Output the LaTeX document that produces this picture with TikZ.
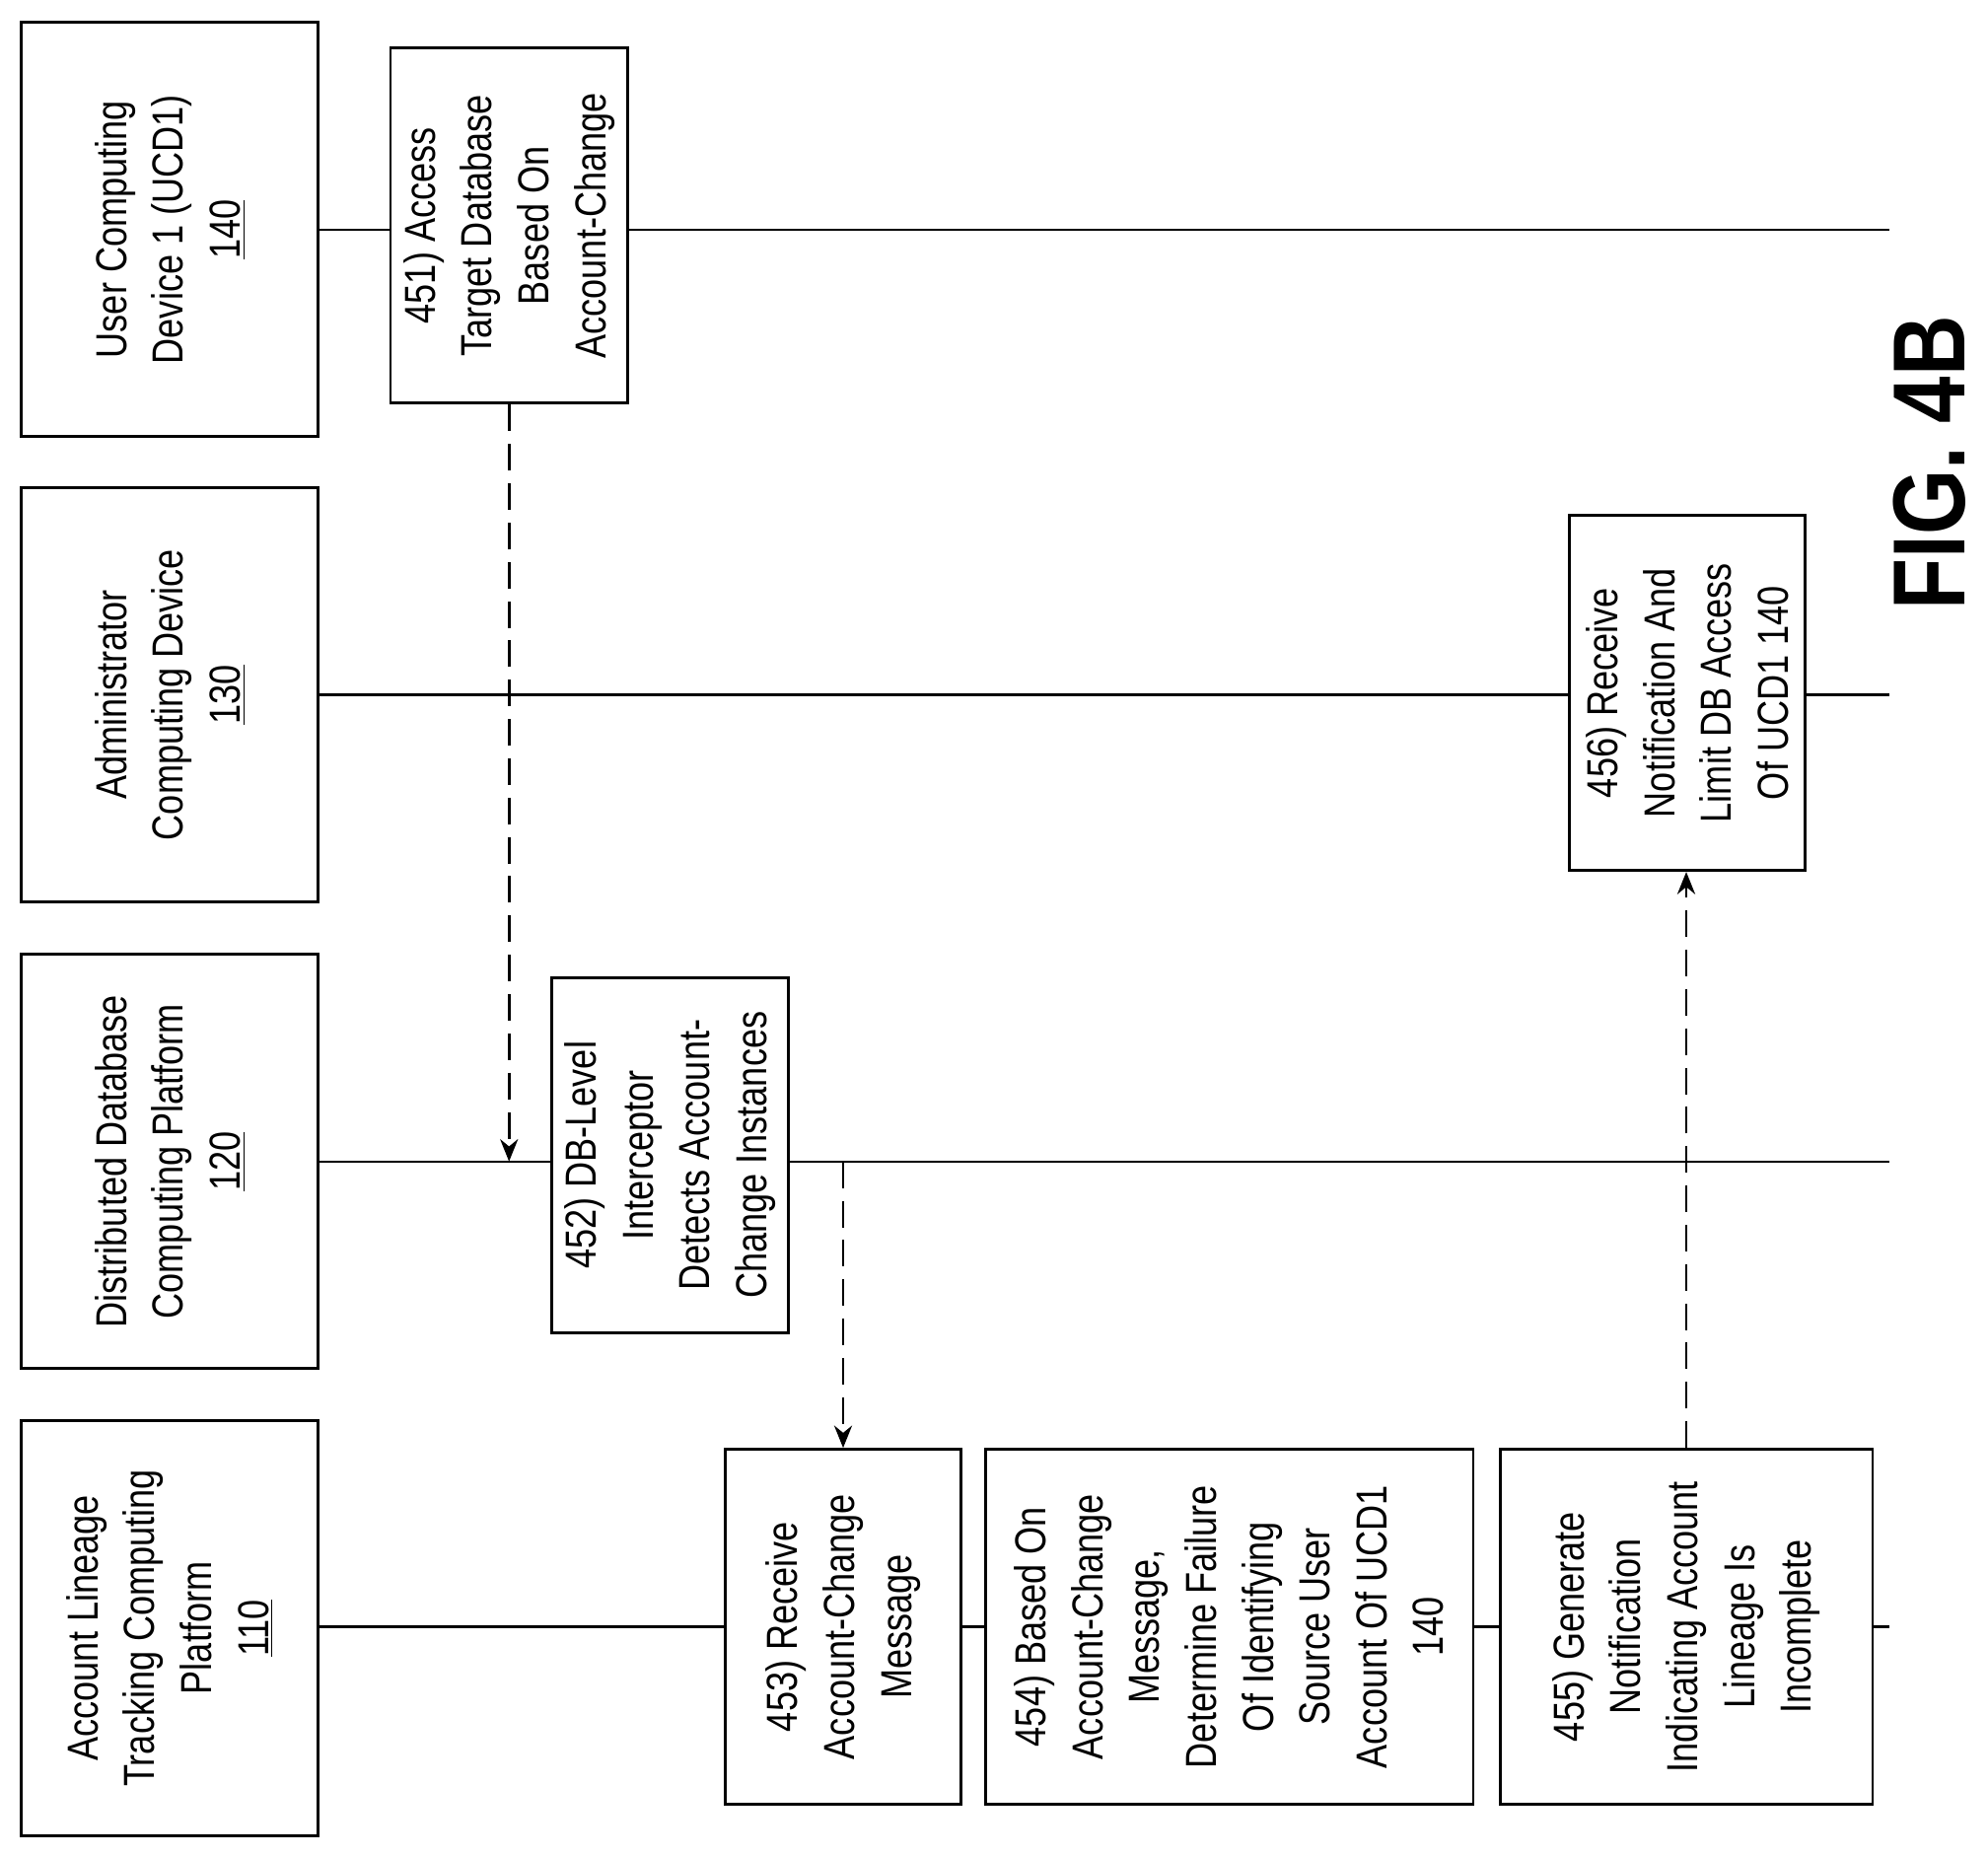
\documentclass[tikz,border=0pt]{standalone}
\usepackage{fontspec}
\setmainfont{Liberation Sans}[FakeStretch=0.82]
\usetikzlibrary{arrows.meta}
\begin{document}
\begin{tikzpicture}[x=0.02cm,y=-0.02cm,
  box/.style={draw,line width=1.3pt,fill=white,rotate=90,align=center,inner sep=0pt,
    font=\fontsize{19.5}{25.5}\selectfont},
  lane/.style={line width=1pt},
  msg/.style={line width=1.3pt,dash pattern=on 0.42cm off 0.2cm,-{Stealth[length=10pt,width=8pt]}}]
\useasboundingbox (0,0) rectangle (1568,1464);
% lane lines
\coordinate (l1a) at (251,181); \coordinate (l1b) at (1490,181);
\coordinate (l2a) at (251,548); \coordinate (l2b) at (1490,548);
\coordinate (l3a) at (251,916); \coordinate (l3b) at (1490,916);
\coordinate (l4a) at (251,1283); \coordinate (l4b) at (1490,1283);
\draw[lane] (l1a)--(l1b); \draw[lane] (l2a)--(l2b); \draw[lane] (l3a)--(l3b); \draw[lane] (l4a)--(l4b);
% lane boxes
\node[box,minimum width=6.54cm,minimum height=4.68cm] (ucd) at (134,181) {User Computing\\Device 1 (UCD1)\\\underline{140}};
\node[box,minimum width=6.54cm,minimum height=4.68cm] (adm) at (134,548) {Administrator\\Computing Device\\\underline{130}};
\node[box,minimum width=6.54cm,minimum height=4.68cm] (ddcp) at (134,916) {Distributed Database\\Computing Platform\\\underline{120}};
\node[box,minimum width=6.54cm,minimum height=4.68cm] (alt) at (134,1284) {Account Lineage\\Tracking Computing\\Platform\\\underline{110}};
% step boxes
\node[box,minimum width=5.6cm,minimum height=3.74cm] (b451) at (401.5,178) {451) Access\\Target Database\\Based On\\Account-Change};
\node[box,minimum width=5.6cm,minimum height=3.72cm] (b456) at (1331,546.5) {456) Receive\\Notification And\\Limit DB Access\\Of UCD1 140};
\node[box,minimum width=5.6cm,minimum height=3.74cm] (b452) at (528.5,911) {452) DB-Level\\Interceptor\\Detects Account-\\Change Instances};
\node[box,minimum width=5.6cm,minimum height=3.72cm] (b453) at (665,1283) {453) Receive\\Account-Change\\Message};
\node[box,minimum width=5.6cm,minimum height=7.7cm] (b454) at (969.5,1283) {454) Based On\\Account-Change\\Message,\\Determine Failure\\Of Identifying\\Source User\\Account Of UCD1\\140};
\node[box,minimum width=5.6cm,minimum height=5.88cm] (b455) at (1330,1283) {455) Generate\\Notification\\Indicating Account\\Lineage Is\\Incomplete};
% messages
\draw[msg] (b451.west) -- (b451.west |- l3a);
\draw[msg] (b453.east |- l3a) -- (b453.east);
\draw[msg] (b455.east) -- (b455.east |- b456.west);
\node[rotate=90,font=\fontsize{46}{46}\selectfont\bfseries] (fig) at (1522,365) {FIG. 4B};
\end{tikzpicture}
\end{document}
